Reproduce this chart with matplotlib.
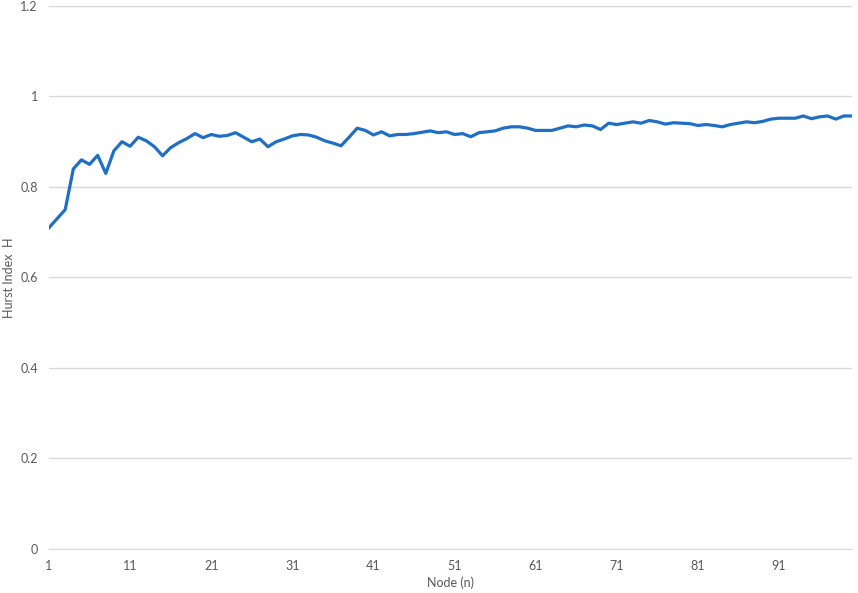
import matplotlib.pyplot as plt

# Hurst index per node
nodes = list(range(1, 101))
hurst = [
    0.71, 0.73, 0.75, 0.84, 0.86, 0.85, 0.87, 0.83, 0.88, 0.90,
    0.89, 0.91, 0.902, 0.889, 0.869, 0.887, 0.898, 0.907, 0.918, 0.909,
    0.916, 0.912, 0.914, 0.92, 0.91, 0.90, 0.906, 0.889, 0.90, 0.906,
    0.913, 0.916, 0.915, 0.91, 0.902, 0.897, 0.891, 0.91, 0.93, 0.925,
    0.915, 0.922, 0.913, 0.916, 0.916, 0.918, 0.921, 0.924, 0.92, 0.922,
    0.916, 0.918, 0.911, 0.92, 0.922, 0.924, 0.93, 0.933, 0.933, 0.93,
    0.925, 0.925, 0.925, 0.93, 0.935, 0.933, 0.937, 0.935, 0.927, 0.941,
    0.938, 0.941, 0.944, 0.941, 0.947, 0.944, 0.939, 0.942, 0.941, 0.94,
    0.936, 0.938, 0.936, 0.933, 0.938, 0.941, 0.944, 0.942, 0.945, 0.95,
    0.952, 0.952, 0.952, 0.957, 0.951, 0.955, 0.957, 0.95, 0.957, 0.957,
]
x_ticks = list(range(1, 101, 10))
y_ticks = [0, 0.2, 0.4, 0.6, 0.8, 1.0, 1.2]
y_labels = ['0', '0.2', '0.4', '0.6', '0.8', '1', '1.2']

text_color = '#595959'
grid_color = '#d9d9d9'
plt.rcParams['font.family'] = ['Lato', 'DejaVu Sans']

fig = plt.figure(figsize=(8.58, 5.93), dpi=100)
ax = fig.add_axes([0.0571, 0.0742, 0.9359, 0.9157])

ax.plot(nodes, hurst, color='#1f6fc6', linewidth=2.3, solid_joinstyle='round')

ax.set_xlim(1, 100)
ax.set_ylim(0, 1.2)
ax.set_xticks(x_ticks)
ax.set_yticks(y_ticks)
ax.set_yticklabels(y_labels)
ax.tick_params(axis='both', length=0, labelsize=9, colors=text_color)
ax.tick_params(axis='x', pad=8)
ax.tick_params(axis='y', pad=8)

ax.grid(axis='y', color=grid_color, linewidth=1)
ax.set_axisbelow(True)
for s in ['top', 'right', 'left']:
    ax.spines[s].set_visible(False)
ax.spines['bottom'].set_color(grid_color)

ax.set_xlabel('Node (n)', fontsize=9, color=text_color)
ax.xaxis.set_label_coords(0.5, -0.05)
ax.set_ylabel('Hurst Index  H', fontsize=9, color=text_color)
ax.yaxis.set_label_coords(-0.042, 0.5)

fig.savefig('out.png', dpi=100)
